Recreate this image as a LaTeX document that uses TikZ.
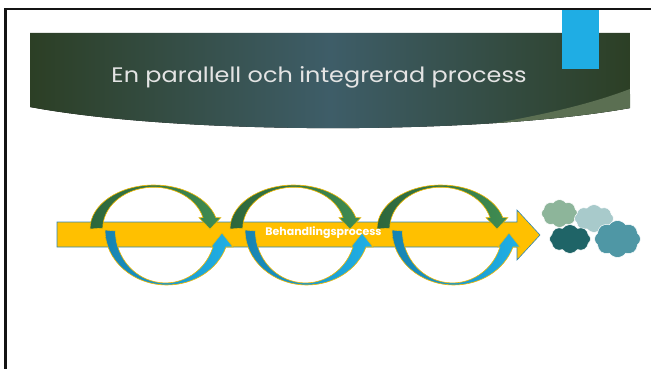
\documentclass[tikz,border=0pt]{standalone}
\usepackage{fontspec}
\setmainfont{Poppins}
\usetikzlibrary{shapes.symbols}
\definecolor{framegray}{HTML}{141414}
\definecolor{bandark}{HTML}{2C3F25}
\definecolor{banmid}{HTML}{3E5D68}
\definecolor{banswoosh}{HTML}{5B6F52}
\definecolor{titlegray}{HTML}{E4E4E4}
\definecolor{accentblue}{HTML}{1FADE4}
\definecolor{baryellow}{HTML}{FFC000}
\definecolor{baredge}{HTML}{2E86B8}
\definecolor{gold}{HTML}{F2B800}
\definecolor{arcgreendark}{HTML}{2D673C}
\definecolor{arcgreenlight}{HTML}{3F8C52}
\definecolor{arcbluedark}{HTML}{1783B1}
\definecolor{arcbluelight}{HTML}{20B0E6}
\definecolor{cloudsage}{HTML}{8DB59A}
\definecolor{cloudmist}{HTML}{A8CACB}
\definecolor{cloudteal}{HTML}{1F6467}
\definecolor{cloudsea}{HTML}{4F97A5}
\tikzset{
  greenarc/.style={left color=arcgreendark, right color=arcgreenlight, draw=gold, line width=0.6pt},
  bluearc/.style={left color=arcbluedark, right color=arcbluelight, draw=gold, line width=0.6pt},
  puff/.style={cloud, cloud puffs=8, cloud puff arc=110, cloud ignores aspect, inner sep=0pt, draw=white, line width=0.5pt},
}
\begin{document}
\begin{tikzpicture}[x=1pt,y=1pt]
			\useasboundingbox (0,0) rectangle (651,-369);
			% title band
			\begin{scope}
				\clip (30,-33) -- (630,-33) -- (630,-108) .. controls (480,-135) and (180,-135) .. (30,-107) -- cycle;
				\fill [left color=bandark, right color=bandark, middle color=banmid] (30,-33) rectangle (630,-135);
				\fill [banswoosh] (630,-89) .. controls (580,-108) and (520,-120) .. (430,-134) -- (640,-140) -- cycle;
			\end{scope}
			\node [anchor=base, xscale=1.14, text=titlegray, font=\fontsize{21}{24}\selectfont] (title) at (319,-82) {En parallell och integrerad process};
			\fill [accentblue] (562,-8) rectangle (599,-69);
			\draw [framegray, line width=2.5pt] (5.3,-369) -- (5.3,-9) -- (651,-9);
			% process bar
			\draw [baredge, fill=baryellow, line width=0.6pt] (57,-222) -- (517,-222) -- (517,-210) -- (540,-235) -- (517,-260) -- (517,-247) -- (57,-247) -- cycle;
			% loops
			\foreach \s in {0,140,287} {
				\begin{scope}[xshift=\s]
					\draw [greenarc] (90,-229) arc [start angle=180, end angle=15, x radius=64, y radius=44]
						-- ++(5,0) -- ++(-10.8,-11.5) -- ++(-11,11.5) -- ++(4,0)
						arc [start angle=15, end angle=180, x radius=51, y radius=41] -- cycle;
					\draw [bluearc] (105,-230) arc [start angle=180, end angle=342, x radius=62, y radius=55]
						-- ++(7,0) -- ++(-11,14) -- ++(-11,-14) -- ++(2,0)
						arc [start angle=342, end angle=180, x radius=50, y radius=52] -- cycle;
				\end{scope}
			}
			\node [anchor=base, text=white, font=\bfseries\fontsize{11}{13}\selectfont] (phase) at (323.5,-235.5) {Behandlingsprocess};
			% outcome clouds
			\node [puff, fill=cloudsage, minimum width=36, minimum height=28] (c1) at (559.5,-213.5) {};
			\node [puff, fill=cloudmist, minimum width=39, minimum height=28] (c2) at (594,-218.5) {};
			\node [puff, fill=cloudteal, minimum width=41, minimum height=29] (c3) at (570,-239) {};
			\node [puff, fill=cloudsea, minimum width=46, minimum height=37] (c4) at (617.5,-239) {};
\end{tikzpicture}
\end{document}
